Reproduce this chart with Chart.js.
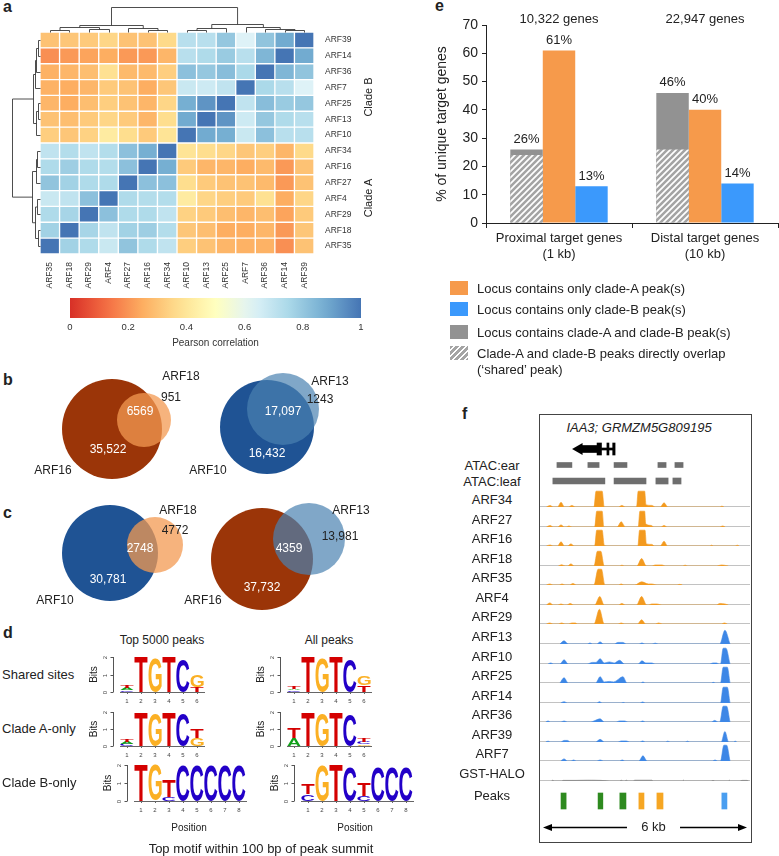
<!DOCTYPE html>
<html>
<head>
<meta charset="utf-8">
<title>ARF clade A / clade B binding</title>
<script src="https://cdn.jsdelivr.net/npm/chart.js"></script>
<style>
  body { margin:0; width:779px; height:856px; position:relative; overflow:hidden; background:#fff;
         font-family:"Liberation Sans", Arial, Helvetica, sans-serif; color:#222; }
  canvas { position:absolute; }
  .t { position:absolute; white-space:nowrap; line-height:1; }
  .sw { position:absolute; width:18px; height:14px; }
  #fbox { position:absolute; left:539px; top:414px; width:211px; height:427px; border:1px solid #444; }
</style>
</head>
<body>
<div id="fbox"></div>
<script>
// ---------- panel a: Pearson correlation of ARF binding ----------
const colNames = ['ARF35','ARF18','ARF29','ARF4','ARF27','ARF16','ARF34','ARF10','ARF13','ARF25','ARF7','ARF36','ARF14','ARF39'];
const rowNames = ['ARF39','ARF14','ARF36','ARF7','ARF25','ARF13','ARF10','ARF34','ARF16','ARF27','ARF4','ARF29','ARF18','ARF35'];
const corr = [
  [0.30,0.31,0.32,0.35,0.30,0.30,0.36, 0.72,0.72,0.80,0.63,0.81,0.88,1.00],
  [0.19,0.21,0.23,0.25,0.21,0.21,0.27, 0.72,0.74,0.79,0.72,0.85,1.00,0.88],
  [0.26,0.27,0.29,0.38,0.28,0.28,0.33, 0.82,0.80,0.83,0.75,1.00,0.85,0.81],
  [0.26,0.25,0.27,0.32,0.30,0.25,0.31, 0.68,0.67,0.70,1.00,0.75,0.72,0.63],
  [0.27,0.25,0.29,0.33,0.30,0.27,0.35, 0.87,0.93,1.00,0.70,0.83,0.79,0.80],
  [0.30,0.29,0.32,0.35,0.32,0.27,0.37, 0.88,1.00,0.93,0.67,0.80,0.74,0.72],
  [0.33,0.31,0.34,0.42,0.37,0.32,0.39, 1.00,0.88,0.87,0.68,0.82,0.72,0.72],
  [0.70,0.73,0.70,0.73,0.82,0.87,1.00, 0.39,0.37,0.35,0.31,0.33,0.27,0.36],
  [0.74,0.78,0.74,0.73,0.82,1.00,0.87, 0.32,0.27,0.27,0.25,0.28,0.21,0.30],
  [0.81,0.77,0.74,0.74,1.00,0.82,0.82, 0.37,0.32,0.30,0.30,0.28,0.21,0.30],
  [0.68,0.70,0.82,1.00,0.74,0.73,0.73, 0.42,0.35,0.33,0.32,0.38,0.25,0.35],
  [0.74,0.76,1.00,0.82,0.74,0.74,0.70, 0.34,0.32,0.29,0.27,0.29,0.23,0.32],
  [0.77,1.00,0.76,0.70,0.77,0.78,0.73, 0.31,0.29,0.25,0.25,0.27,0.21,0.31],
  [1.00,0.77,0.74,0.68,0.81,0.74,0.70, 0.33,0.30,0.27,0.26,0.26,0.19,0.30]
];
// dendrograms: [merge height, left, right], leaves are column / row indexes
const colTree = [25, [7, [5, [2, 0, 1], [3, 2, 3]], [4.5, 4, [2.5, 5, 6]]],
                     [8, [4, [2.5, 7, 8], 9], [5.5, 10, [3.5, 11, [2, 12, 13]]]]];
const rowTree = [28, [7.5, [5.5, [4, [2.5, 0, 1], 2], 3], [4, [2.5, 4, 5], 6]],
                     [8.5, [4.5, [3, 7, 8], 9], [5.5, [3, 10, 11], [2.5, 12, 13]]]];
const cbTicks = [0, 0.2, 0.4, 0.6, 0.8, 1];

// ---------- panels b, c: peak overlaps ----------
const vennPairs = [['ARF16','ARF18'], ['ARF10','ARF13'], ['ARF10','ARF18'], ['ARF16','ARF13']];
const onlyFirst = [35522, 16432, 30781, 37732];
const overlap = [6569, 17097, 2748, 4359];
const onlySecond = [951, 1243, 4772, 13981];

// ---------- panel d: motif logos, per position [letter, bits] bottom to top ----------
const sharedTop = [[['C',0.1],['A',0.12],['T',0.16]], [['T',2]], [['G',1.97]], [['T',2]], [['C',1.9]], [['T',0.3],['G',0.65]]];
const sharedAll = [[['C',0.1],['A',0.1],['T',0.14]], [['T',2]], [['G',1.95]], [['T',2]], [['C',1.88]], [['T',0.38],['G',0.55]]];
const cladeATop = [[['C',0.12],['A',0.12],['T',0.18]], [['T',2]], [['G',1.95]], [['T',2]], [['C',1.9]], [['G',0.45],['T',0.5]]];
const cladeAAll = [[['A',0.45],['T',0.6]], [['T',2]], [['G',1.9]], [['T',2]], [['C',1.85]], [['G',0.1],['C',0.12],['T',0.2]]];
const cladeBTop = [[['T',2]], [['G',2]], [['C',0.2],['T',0.95]], [['C',1.95]], [['C',1.95]], [['C',1.95]], [['C',1.95]], [['C',1.95]]];
const cladeBAll = [[['C',0.38],['T',0.6]], [['G',1.95]], [['T',2]], [['C',1.9]], [['C',0.26],['T',0.75]], [['C',1.9]], [['C',1.9]], [['C',1.9]]];

// ---------- panel e: % of unique target genes ----------
const targetGroups = [['Proximal target genes', '(1 kb)'], ['Distal target genes', '(10 kb)']];
const geneTotals = ['10,322 genes', '22,947 genes'];
const pctBoth = [26, 46];
const pctShared = [24, 26];
const pctCladeA = [61, 40];
const pctCladeB = [13, 14];

// ---------- panel f: IAA3 locus, positions in kb ----------
const trackNames = ['ARF34','ARF27','ARF16','ARF18','ARF35','ARF4','ARF29',
                    'ARF13','ARF10','ARF25','ARF14','ARF36','ARF39','ARF7','GST-HALO'];
const trackGroup = ['A','A','A','A','A','A','A','B','B','B','B','B','B','B','ctrl'];
const arf34 = [[0.1,0],[0.21,1.5],[0.3,0],[0.43,0],[0.53,4.5],[0.63,0],[0.75,0],[0.85,1.5],[0.95,0],[1.5,0],[1.56,15],[1.74,15],[1.8,0],
  [2.22,0],[2.32,1.5],[2.42,0],[2.75,0],[2.8,15],[2.99,15],[3.03,2],[3.2,1.5],[3.3,0],[3.45,0],[3.56,4],[3.67,0],[5.2,0],[5.26,0.8],[5.32,0]];
const arf27 = [[0.1,0],[0.21,1.5],[0.3,0],[0.43,0],[0.53,2],[0.63,0],[0.68,0],[0.76,1],[0.86,0],[1.52,0],[1.58,15],[1.74,15],[1.79,0],
  [2.18,0],[2.3,5],[2.42,0],[2.8,0],[2.85,15],[2.99,15],[3.02,3],[3.18,1.5],[3.26,0],[3.47,0],[3.56,1.5],[3.65,0],[5.2,0],[5.28,1],[5.36,0]];
const arf16 = [[0.1,0],[0.21,1],[0.3,0],[0.43,0],[0.53,4],[0.63,0],[0.72,0],[0.82,2],[0.92,0],[1.52,0],[1.58,15],[1.74,15],[1.8,0.8],[1.9,0],
  [2.79,0],[2.84,15],[3.0,15],[3.04,2],[3.2,1.5],[3.28,0],[3.45,0],[3.56,4.5],[3.66,0],[4.9,0],[4.96,0.8],[5.02,0],[5.65,0],[5.71,0.8],[5.77,0]];
const arf18 = [[0.45,0],[0.55,1.2],[0.65,0],[0.72,0],[0.82,2],[0.92,0],[1.5,0],[1.6,14],[1.7,14],[1.8,0],[2.25,0],[2.32,0.8],[2.4,0],
  [2.76,0],[2.9,7],[3.04,0],[3.2,0],[3.3,1],[3.5,1],[3.6,0],[4.1,0],[4.18,0.8],[4.26,0],[5.1,0],[5.25,1],[5.45,0]];
const arf35 = [[0.1,0],[0.2,1],[0.3,0],[0.47,0],[0.56,1],[0.65,0],[0.78,0],[0.88,1.5],[0.98,0],[1.5,0],[1.62,15],[1.72,15],[1.82,0],
  [2.22,0],[2.3,1],[2.38,0],[2.7,0],[2.9,3],[3.1,1],[3.2,1],[3.35,0],[3.95,0],[4.02,0.6],[4.1,0]];
const arf4 = [[0.1,0],[0.2,2],[0.3,0],[0.43,0],[0.53,1],[0.63,0],[0.7,0],[0.8,1.5],[0.9,0],[1.52,0],[1.67,8],[1.8,0],[2.22,0],[2.32,1.5],[2.42,0],
  [2.75,0],[2.9,8],[3.05,0],[3.1,0],[3.2,1],[3.35,1],[3.5,0],[5.1,0],[5.2,1.5],[5.35,1],[5.45,0]];
const arf29 = [[0.1,0],[0.2,1],[0.3,0],[0.45,0],[0.55,1],[0.65,0],[0.75,0],[0.85,1],[0.95,1],[1.02,0],[1.5,0],[1.66,14],[1.8,0],
  [2.2,0],[2.3,1],[2.4,0],[2.78,0],[2.9,4],[3.02,0],[3.3,0],[3.4,1],[3.52,0],[5.25,0],[5.33,1],[5.42,0]];
const arf13 = [[0.5,0],[0.62,3],[0.74,0],[1.3,0],[1.38,1],[1.46,0],[1.58,0],[1.68,2],[1.78,0],[2.1,0],[2.2,1.5],[2.35,1.5],[2.45,0],
  [2.82,0],[2.91,1],[3.0,0],[3.2,0],[3.3,0.8],[3.4,0],[5.2,0],[5.35,13],[5.5,0]];
const arf10 = [[0.15,0],[0.23,1],[0.31,0],[0.5,0],[0.62,4],[0.74,0],[1.3,0],[1.45,1.5],[1.56,1.5],[1.68,5],[1.8,1],[1.95,2],[2.1,1],[2.25,3.5],[2.4,0],
  [2.8,0],[2.91,3],[3.02,1],[3.2,1],[3.3,0],[4.9,0],[5.0,1],[5.1,1],[5.18,0],[5.22,0],[5.3,15],[5.38,15],[5.5,0]];
const arf25 = [[0.5,0],[0.62,5],[0.74,0],[1.55,0],[1.68,6],[1.8,1],[1.95,1.5],[2.08,1],[2.35,6],[2.47,0],[2.88,0],[2.94,1],[3.0,0],
  [4.96,0],[5.01,0.6],[5.06,0],[5.22,0],[5.3,15],[5.42,15],[5.5,0]];
const arf14 = [[0.52,0],[0.62,1.3],[0.72,0],[1.58,0],[1.66,1.3],[1.74,0],[2.3,0],[2.36,0.5],[2.42,0],[2.85,0],[2.93,1],[3.01,0],
  [5.22,0],[5.3,15],[5.42,15],[5.5,0]];
const arf36 = [[0.08,0],[0.15,1],[0.22,0],[0.52,0],[0.62,1],[0.72,0],[1.4,0],[1.5,1],[1.68,3],[1.8,0],[2.15,0],[2.25,1],[2.4,1],[2.5,0],
  [2.85,0],[2.93,1],[3.01,0],[4.95,0],[5.05,1.5],[5.15,0],[5.2,0],[5.3,15],[5.4,15],[5.5,0]];
const arf39 = [[0.08,0],[0.15,0.8],[0.22,0],[0.52,0],[0.62,1.5],[0.72,1.5],[0.8,0],[1.55,0],[1.68,2.5],[1.8,0],[2.2,0],[2.3,1],[2.45,1],[2.55,0],
  [2.85,0],[2.93,1],[3.01,0],[3.6,0],[3.67,0.8],[3.74,0],[4.18,0],[4.25,0.8],[4.32,0],[5.24,0],[5.35,10],[5.46,0],[5.6,0],[5.65,0.8],[5.7,0]];
const arf7 = [[0.52,0],[0.62,2],[0.72,0],[0.82,0],[0.9,1],[0.98,0],[1.58,0],[1.68,1],[1.78,0],[2.25,0],[2.33,1],[2.41,0],
  [2.82,0],[2.94,5],[3.06,0],[4.98,0],[5.06,1],[5.14,0],[5.22,0],[5.32,15],[5.4,15],[5.5,0]];
const gstHalo = [[0.25,0],[0.29,0.8],[0.33,0],[0.55,0],[0.6,0.6],[0.95,0.6],[1.3,0.8],[1.7,0.6],[1.95,0],[2.25,0],[2.3,0.8],[2.35,0],
  [2.4,0],[2.45,0.8],[2.5,0],[2.65,0],[2.7,0.8],[3.2,0.8],[3.25,0],[4.1,0],[4.13,0.8],[4.16,0],[4.95,0],[5.0,0.6],[5.05,0],
  [5.45,0],[5.48,0.8],[5.51,0],[5.8,0],[5.85,0.6],[6.0,0.6],[6.05,0]];
const tracks = [arf34, arf27, arf16, arf18, arf35, arf4, arf29, arf13, arf10, arf25, arf14, arf36, arf39, arf7, gstHalo];
const atacEar = [[0.41,0.85],[1.32,1.65],[2.09,2.47],[3.38,3.62],[3.88,4.12]];
const atacLeaf = [[0.29,1.82],[2.09,3.03],[3.32,3.68],[3.82,4.06]];
const geneArrow = 1.06;
const geneBody = [[1.08,1.59]];
const geneExons = [[1.59,1.72],[1.88,1.94],[2.05,2.12]];
const geneIntron = [[1.72,2.05]];
const peaksShared = [[0.53,0.68],[1.62,1.76],[2.26,2.44]];
const peaksCladeA = [[2.82,2.97],[3.35,3.53]];
const peaksCladeB = [[5.26,5.41]];
const windowKb = 6;

// ---------- common ----------
const FONT = '"Liberation Sans", Arial, Helvetica, sans-serif';
Chart.defaults.font.family = FONT;
Chart.defaults.color = '#222';
Chart.defaults.animation = false;
Chart.defaults.responsive = false;
Chart.defaults.devicePixelRatio = 1;
Chart.defaults.plugins.legend.display = false;
Chart.defaults.plugins.tooltip.enabled = false;

function addCanvas(left, top, w, h) {
  const c = document.createElement('canvas');
  c.width = w; c.height = h;
  c.style.left = left + 'px'; c.style.top = top + 'px';
  c.style.width = w + 'px'; c.style.height = h + 'px';
  document.body.appendChild(c);
  return c;
}
function text(str, x, cy, o = {}) {
  const d = document.createElement('div');
  d.className = 't';
  d.textContent = str;
  d.style.fontSize = (o.size || 13) + 'px';
  d.style.left = x + 'px';
  d.style.top = cy + 'px';
  if (o.bold) d.style.fontWeight = 'bold';
  if (o.italic) d.style.fontStyle = 'italic';
  if (o.color) d.style.color = o.color;
  const ax = o.align === 'left' ? '0' : o.align === 'right' ? '-100%' : '-50%';
  d.style.transform = `translate(${ax}, -50%)` + (o.rotate ? ` rotate(${o.rotate}deg)` : '');
  document.body.appendChild(d);
}
function rdylbu(v) {
  const stops = [[215,48,39],[244,109,67],[253,174,97],[254,224,144],[255,255,191],
                 [224,243,248],[171,217,233],[116,173,209],[69,117,180]];
  const t = Math.max(0, Math.min(1, v)) * (stops.length - 1);
  const i = Math.min(Math.floor(t), stops.length - 2), f = t - i;
  return 'rgb(' + stops[i].map((s, k) => Math.round(s + (stops[i + 1][k] - s) * f)).join(',') + ')';
}

// panel letters
text('a', 3, 7, {bold: true, size: 16, align: 'left'});
text('b', 3, 380, {bold: true, size: 16, align: 'left'});
text('c', 3, 513, {bold: true, size: 16, align: 'left'});
text('d', 3, 633, {bold: true, size: 16, align: 'left'});
text('e', 435, 6, {bold: true, size: 16, align: 'left'});
text('f', 462, 414, {bold: true, size: 16, align: 'left'});

// ================= a: heatmap =================
const dendroPlugin = {
  id: 'dendro',
  afterDraw(chart) {
    const {ctx, chartArea: a, scales: {x, y}} = chart;
    ctx.save();
    ctx.strokeStyle = '#3a3a3a';
    ctx.lineWidth = 0.9;
    const seg = (p, q) => { ctx.beginPath(); ctx.moveTo(p[0], p[1]); ctx.lineTo(q[0], q[1]); ctx.stroke(); };
    const walk = (node, pos, map) => {
      if (typeof node === 'number') return {p: pos(node), h: 0};
      const [h, l, r] = node;
      const L = walk(l, pos, map), R = walk(r, pos, map);
      seg(map(L.p, L.h), map(L.p, h));
      seg(map(R.p, R.h), map(R.p, h));
      seg(map(L.p, h), map(R.p, h));
      return {p: (L.p + R.p) / 2, h};
    };
    walk(colTree, i => Math.round(x.getPixelForValue(i + 0.5)) + 0.5, (p, h) => [p, Math.round(a.top - h) + 0.5]);
    walk(rowTree, i => Math.round(y.getPixelForValue(i)) + 0.5, (p, h) => [Math.round(a.left - h) + 0.5, p]);
    ctx.restore();
  }
};
new Chart(addCanvas(0, 0, 390, 300), {
  type: 'bar',
  data: {
    labels: rowNames,
    datasets: colNames.map((name, j) => ({
      label: name,
      data: rowNames.map(() => 1),
      backgroundColor: corr.map(row => rdylbu(row[j])),
      borderColor: '#fff',
      borderWidth: 1,
      borderSkipped: false,
      barPercentage: 1,
      categoryPercentage: 1
    }))
  },
  options: {
    indexAxis: 'y',
    layout: {padding: {left: 40, top: 32}},
    scales: {
      x: {
        type: 'linear', stacked: true, min: 0, max: colNames.length,
        grid: {display: false, drawTicks: false}, border: {display: false},
        afterBuildTicks: s => { s.ticks = colNames.map((n, i) => ({value: i + 0.5})); },
        afterFit: s => { s.height = 46; },
        ticks: {autoSkip: false, minRotation: 90, maxRotation: 90, padding: 8,
                font: {size: 8.5}, color: '#333', callback: (v, i) => colNames[i]}
      },
      y: {
        stacked: true, position: 'right',
        grid: {display: false, drawTicks: false}, border: {display: false},
        afterFit: s => { s.width = 76; },
        ticks: {padding: 11, font: {size: 8.5}, color: '#333'}
      }
    }
  },
  plugins: [dendroPlugin]
});
text('Clade B', 368, 97, {size: 11, rotate: -90});
text('Clade A', 368, 198, {size: 11, rotate: -90});

// colour key
new Chart(addCanvas(0, 292, 390, 62), {
  type: 'bar',
  data: {
    labels: [''],
    datasets: [{
      data: [[cbTicks[0], cbTicks[cbTicks.length - 1]]],
      barPercentage: 1, categoryPercentage: 1,
      backgroundColor: c => {
        const a = c.chart.chartArea;
        if (!a) return 'rgba(0,0,0,0)';
        const g = c.chart.ctx.createLinearGradient(a.left, 0, a.right, 0);
        for (let k = 0; k <= 20; k++) g.addColorStop(k / 20, rdylbu(k / 20));
        return g;
      }
    }]
  },
  options: {
    indexAxis: 'y',
    layout: {padding: {left: 70, right: 29, top: 6}},
    scales: {
      x: {
        type: 'linear', min: 0, max: 1,
        grid: {display: false, drawTicks: false}, border: {display: false},
        afterBuildTicks: s => { s.ticks = cbTicks.map(v => ({value: v})); },
        afterFit: s => { s.height = 36; },
        ticks: {padding: 4, font: {size: 9.5}, color: '#333', callback: v => String(+v.toFixed(1))},
        title: {display: true, text: 'Pearson correlation', font: {size: 10}, color: '#333', padding: {top: 0, bottom: 5}}
      },
      y: {display: false}
    }
  }
});

// ================= b, c: Venn diagrams =================
const tfColor = {ARF16: '#9b3508', ARF10: '#1f5394', ARF18: 'rgba(243,154,82,0.75)', ARF13: 'rgba(74,130,177,0.7)'};
// circle centre x, y and radius in page pixels, plus label anchors
const vennLayout = [
  {a: [112, 429, 50], b: [144, 420, 27], inA: [108, 450], inAB: [140, 412], inB: [171, 398], nameA: [53, 471], nameB: [181, 377]},
  {a: [267, 427, 47], b: [283, 409, 36], inA: [267, 454], inAB: [283, 412], inB: [320, 400], nameA: [208, 471], nameB: [330, 382]},
  {a: [110, 553, 48], b: [155, 545, 28], inA: [108, 580], inAB: [140, 549], inB: [175, 531], nameA: [55, 601], nameB: [178, 511]},
  {a: [262, 559, 51], b: [309, 539, 36], inA: [262, 588], inAB: [289, 549], inB: [340, 537], nameA: [203, 601], nameB: [351, 511]}
];
const fmtCount = n => n >= 10000 ? n.toLocaleString('en-US') : String(n);
const vennText = {
  id: 'vennText',
  afterDatasetsDraw(chart) {
    const {ctx, scales: {x, y}} = chart;
    ctx.save();
    ctx.font = '12px ' + FONT;
    ctx.textAlign = 'center';
    ctx.textBaseline = 'middle';
    const put = (t, p, col) => { ctx.fillStyle = col; ctx.fillText(t, x.getPixelForValue(p[0]), y.getPixelForValue(p[1])); };
    vennLayout.forEach((L, i) => {
      put(fmtCount(onlyFirst[i]), L.inA, '#fff');
      put(fmtCount(overlap[i]), L.inAB, '#fff');
      put(fmtCount(onlySecond[i]), L.inB, '#222');
      put(vennPairs[i][0], L.nameA, '#222');
      put(vennPairs[i][1], L.nameB, '#222');
    });
    ctx.restore();
  }
};
new Chart(addCanvas(0, 355, 400, 262), {
  type: 'bubble',
  data: {
    datasets: [{
      data: vennLayout.flatMap(L => [L.a, L.b]).map(([x, y, r]) => ({x, y, r})),
      backgroundColor: vennPairs.flatMap(p => p.map(n => tfColor[n])),
      borderWidth: 0,
      clip: false
    }]
  },
  options: {
    layout: {padding: 0, autoPadding: false},
    scales: {x: {display: false, min: 0, max: 400}, y: {display: false, min: 355, max: 617, reverse: true}}
  },
  plugins: [vennText]
});

// ================= d: sequence logos =================
const letterColor = {A: '#11a01a', C: '#2200c8', G: '#fbb024', T: '#d40000'};
function drawLetter(ctx, ch, x0, y0, w, h, color) {
  if (h < 0.4 || w <= 0) return;
  ctx.save();
  ctx.font = 'bold 100px ' + FONT;
  const m = ctx.measureText(ch);
  const gw = m.actualBoundingBoxLeft + m.actualBoundingBoxRight;
  const gh = m.actualBoundingBoxAscent + m.actualBoundingBoxDescent;
  ctx.translate(x0, y0);
  ctx.scale(w / gw, h / gh);
  ctx.fillStyle = color;
  ctx.fillText(ch, m.actualBoundingBoxLeft, m.actualBoundingBoxAscent);
  ctx.restore();
}
const logoPlugin = {
  id: 'logo',
  afterDatasetsDraw(chart) {
    const {ctx, chartArea: a, scales: {y}} = chart;
    chart.data.datasets.forEach((ds, k) => {
      chart.getDatasetMeta(k).data.forEach((bar, i) => {
        const ch = ds.letters[i];
        if (!ch) return;
        const p = bar.getProps(['x', 'y', 'base', 'width'], true);
        drawLetter(ctx, ch, p.x - p.width / 2, p.y, p.width, p.base - p.y, letterColor[ch]);
      });
    });
    const ax = a.left - 6.5;
    ctx.save();
    ctx.strokeStyle = '#555';
    ctx.lineWidth = 1;
    ctx.beginPath();
    ctx.moveTo(ax, y.getPixelForValue(0));
    ctx.lineTo(ax, y.getPixelForValue(2));
    ctx.stroke();
    ctx.fillStyle = '#444';
    ctx.textAlign = 'center';
    ctx.textBaseline = 'middle';
    [0, 1, 2].forEach(v => {
      const py = Math.round(y.getPixelForValue(v)) + 0.5;
      ctx.beginPath(); ctx.moveTo(ax - 3, py); ctx.lineTo(ax, py); ctx.stroke();
      ctx.save();
      ctx.font = '6px ' + FONT;
      ctx.translate(ax - 8, py);
      ctx.rotate(-Math.PI / 2);
      ctx.fillText(String(v), 0, 0);
      ctx.restore();
    });
    ctx.save();
    ctx.font = '10px ' + FONT;
    ctx.fillStyle = '#222';
    ctx.translate(ax - 19, (y.getPixelForValue(0) + y.getPixelForValue(2)) / 2);
    ctx.rotate(-Math.PI / 2);
    ctx.fillText('Bits', 0, 0);
    ctx.restore();
    ctx.restore();
  }
};
function makeLogo(cols, chartLeft, top, bottom) {
  const pitch = 14, padL = 36, padT = 4, axisH = 16;
  const cv = addCanvas(chartLeft - padL, top - padT, padL + cols.length * pitch + 2, padT + (bottom - top) + axisH);
  const depth = Math.max(...cols.map(c => c.length));
  const datasets = [];
  for (let k = 0; k < depth; k++) {
    datasets.push({
      data: cols.map(c => (c[k] ? c[k][1] : 0)),
      letters: cols.map(c => (c[k] ? c[k][0] : '')),
      backgroundColor: 'rgba(0,0,0,0)',
      barPercentage: 0.94,
      categoryPercentage: 1
    });
  }
  new Chart(cv, {
    type: 'bar',
    data: {labels: cols.map((c, i) => String(i + 1)), datasets},
    options: {
      layout: {padding: {left: padL, top: padT, right: 2}},
      scales: {
        x: {
          stacked: true,
          grid: {display: true, drawOnChartArea: false, tickLength: 2, offset: false, color: '#666'},
          border: {display: true, color: '#666'},
          afterFit: s => { s.height = axisH; },
          ticks: {font: {size: 6}, color: '#444', padding: 4}
        },
        y: {stacked: true, display: false, min: 0, max: 2}
      }
    },
    plugins: [logoPlugin]
  });
}
makeLogo(sharedTop, 120, 657, 692);
makeLogo(sharedAll, 287, 657, 692);
makeLogo(cladeATop, 120, 712, 746);
makeLogo(cladeAAll, 287, 712, 746);
makeLogo(cladeBTop, 134, 765, 801);
makeLogo(cladeBAll, 301, 765, 801);
text('Top 5000 peaks', 162, 640, {size: 12});
text('All peaks', 329, 640, {size: 12});
text('Shared sites', 2, 674, {size: 13, align: 'left'});
text('Clade A-only', 2, 728, {size: 13, align: 'left'});
text('Clade B-only', 2, 782, {size: 13, align: 'left'});
text('Position', 189, 828, {size: 10});
text('Position', 355, 828, {size: 10});
text('Top motif within 100 bp of peak summit', 261, 848, {size: 13});

// ================= e: target genes bar chart =================
function makeHatch() {
  const p = document.createElement('canvas');
  p.width = 6; p.height = 6;
  const g = p.getContext('2d');
  g.fillStyle = '#a4a4a4';
  g.fillRect(0, 0, 6, 6);
  g.strokeStyle = '#fff';
  g.lineWidth = 1.7;
  g.beginPath();
  g.moveTo(0, 6); g.lineTo(6, 0);
  g.moveTo(-1, 1); g.lineTo(1, -1);
  g.moveTo(5, 7); g.lineTo(7, 5);
  g.stroke();
  return g.createPattern(p, 'repeat');
}
const colA = '#f69a4b', colB = '#3b99fc', colBoth = '#929292';
const barLabels = {
  id: 'barLabels',
  afterDatasetsDraw(chart) {
    const {ctx, scales: {x}} = chart;
    ctx.save();
    ctx.font = '13px ' + FONT;
    ctx.fillStyle = '#222';
    ctx.textAlign = 'center';
    ctx.textBaseline = 'middle';
    [1, 2, 3].forEach(k => chart.getDatasetMeta(k).data.forEach((bar, i) => {
      ctx.fillText(chart.data.datasets[k].data[i] + '%', bar.x, bar.y - 10);
    }));
    geneTotals.forEach((t, i) => ctx.fillText(t, x.getPixelForValue(i), 19));
    ctx.restore();
  }
};
const eChart = new Chart(addCanvas(400, 0, 379, 272), {
  type: 'bar',
  data: {
    labels: targetGroups,
    datasets: [
      {label: "Clade-A and clade-B peaks directly overlap\n(\u2018shared\u2019 peak)", data: pctShared, stack: 'AB', backgroundColor: makeHatch()},
      {label: 'Locus contains clade-A and clade-B peak(s)', data: pctBoth, stack: 'AB', backgroundColor: colBoth},
      {label: 'Locus contains only clade-A peak(s)', data: pctCladeA, stack: 'A', backgroundColor: colA},
      {label: 'Locus contains only clade-B peak(s)', data: pctCladeB, stack: 'B', backgroundColor: colB}
    ]
  },
  options: {
    layout: {padding: {top: 25, right: 1}},
    datasets: {bar: {categoryPercentage: 0.667, barPercentage: 1, borderWidth: 0}},
    scales: {
      x: {
        stacked: true,
        grid: {display: true, drawOnChartArea: false, drawTicks: true, tickLength: 5, offset: true, color: '#222'},
        border: {display: true, color: '#222'},
        afterFit: s => { s.height = 49; },
        ticks: {font: {size: 13}, color: '#222', padding: 3}
      },
      y: {
        stacked: false, min: 0, max: 70,
        grid: {display: true, drawOnChartArea: false, drawTicks: true, tickLength: 4, color: '#222'},
        border: {display: true, color: '#222'},
        afterFit: s => { s.width = 86; },
        ticks: {stepSize: 10, font: {size: 14}, color: '#222', padding: 4},
        title: {display: true, text: '% of unique target genes', font: {size: 14}, color: '#222', padding: {top: 34, bottom: 0}}
      }
    }
  },
  plugins: [barLabels]
});
// legend built from the datasets
[2, 3, 1, 0].forEach((k, row) => {
  const ds = eChart.data.datasets[k];
  const cy = [288, 309, 332, 353][row];
  const sw = document.createElement('div');
  sw.className = 'sw';
  sw.style.left = '450px';
  sw.style.top = (cy - 7) + 'px';
  sw.style.background = k === 0
    ? 'repeating-linear-gradient(135deg, #a4a4a4 0 2.6px, #fff 2.6px 4.2px)'
    : ds.backgroundColor;
  document.body.appendChild(sw);
  ds.label.split('\n').forEach((line, j) => text(line, 477, cy + j * 16, {size: 13, align: 'left'}));
});

// ================= f: genome browser =================
const fLeft = 540, fWidth = 210;
const pxPerKb = 34, kbMin = -3 / pxPerKb, kbMax = kbMin + fWidth / pxPerKb;
text('IAA3; GRMZM5G809195', 639, 427, {size: 13, italic: true});
text('ATAC:ear', 492, 465, {size: 13});
text('ATAC:leaf', 492, 481, {size: 13});
text('Peaks', 492, 795, {size: 13});

// gene model and ATAC-seq accessible regions
const seg = (list, row) => list.map(r => ({x: r, y: row}));
new Chart(addCanvas(fLeft, 441, fWidth, 48), {
  type: 'bar',
  data: {
    labels: ['gene', 'ATAC:ear', 'ATAC:leaf'],
    datasets: [
      {type: 'scatter', data: [{x: geneArrow, y: 'gene'}], pointStyle: 'triangle', rotation: -90, pointRadius: 7,
       backgroundColor: '#000', borderWidth: 0},
      {data: seg(geneBody, 'gene'), barThickness: 7, backgroundColor: '#000'},
      {data: seg(geneExons, 'gene'), barThickness: 12, backgroundColor: '#000'},
      {data: seg(geneIntron, 'gene'), barThickness: 2, backgroundColor: '#000'},
      {data: seg(atacEar, 'ATAC:ear'), barThickness: 5, backgroundColor: '#6e6e6e'},
      {data: seg(atacLeaf, 'ATAC:leaf'), barThickness: 6, backgroundColor: '#6e6e6e'}
    ]
  },
  options: {
    indexAxis: 'y',
    datasets: {bar: {grouped: false, borderWidth: 0}},
    layout: {padding: 0, autoPadding: false},
    scales: {x: {type: 'linear', min: kbMin, max: kbMax, display: false}, y: {display: false}}
  }
});

// ChIP-seq coverage tracks
const trackColor = {A: '#f39a1f', B: '#3d87e6', ctrl: '#8c8c8c'};
const baselinePlugin = {
  id: 'baseline',
  beforeDatasetsDraw(chart) {
    const {ctx, scales: {y}} = chart;
    const py = Math.round(y.getPixelForValue(0)) - 0.5;
    ctx.save();
    ctx.strokeStyle = '#c2c2c2';
    ctx.lineWidth = 1;
    ctx.beginPath(); ctx.moveTo(0, py); ctx.lineTo(chart.width, py); ctx.stroke();
    ctx.restore();
  }
};
tracks.forEach((pts, i) => {
  const base = Math.round(507 + i * 19.57);
  text(trackNames[i], 492, base - 8.5, {size: 13});
  const col = trackColor[trackGroup[i]];
  new Chart(addCanvas(fLeft, base - 19, fWidth, 20), {
    type: 'line',
    data: {
      datasets: [{
        data: pts.map(([x, y]) => ({x, y})),
        fill: 'origin', backgroundColor: col, borderColor: col, borderWidth: 0.6,
        pointRadius: 0, cubicInterpolationMode: 'monotone'
      }]
    },
    options: {
      layout: {padding: {bottom: 1}, autoPadding: false},
      scales: {x: {type: 'linear', min: kbMin, max: kbMax, display: false}, y: {min: 0, max: 18, display: false}}
    },
    plugins: [baselinePlugin]
  });
});

// called peaks and 6 kb scale
const scaleBar = {
  id: 'scaleBar',
  afterDraw(chart) {
    const {ctx, scales: {x}} = chart;
    const y = 42.5, x0 = x.getPixelForValue(0), x1 = x.getPixelForValue(windowKb);
    const gapL = x.getPixelForValue(2.47), gapR = x.getPixelForValue(4.03);
    ctx.save();
    ctx.strokeStyle = '#000';
    ctx.fillStyle = '#000';
    ctx.lineWidth = 1.3;
    ctx.beginPath();
    ctx.moveTo(x0 + 6, y); ctx.lineTo(gapL, y);
    ctx.moveTo(gapR, y); ctx.lineTo(x1 - 6, y);
    ctx.stroke();
    ctx.beginPath(); ctx.moveTo(x0, y); ctx.lineTo(x0 + 9, y - 3.5); ctx.lineTo(x0 + 9, y + 3.5); ctx.fill();
    ctx.beginPath(); ctx.moveTo(x1, y); ctx.lineTo(x1 - 9, y - 3.5); ctx.lineTo(x1 - 9, y + 3.5); ctx.fill();
    ctx.font = '13px ' + FONT;
    ctx.textAlign = 'center';
    ctx.textBaseline = 'middle';
    ctx.fillStyle = '#222';
    ctx.fillText(windowKb + ' kb', (gapL + gapR) / 2, y);
    ctx.restore();
  }
};
new Chart(addCanvas(fLeft, 785, fWidth, 52), {
  type: 'bar',
  data: {
    labels: ['Peaks'],
    datasets: [
      {data: seg(peaksShared, 'Peaks'), backgroundColor: '#2e8a1f'},
      {data: seg(peaksCladeA, 'Peaks'), backgroundColor: '#f6a623'},
      {data: seg(peaksCladeB, 'Peaks'), backgroundColor: '#4a9ef0'}
    ]
  },
  options: {
    indexAxis: 'y',
    datasets: {bar: {grouped: false, barThickness: 16, borderWidth: 0}},
    layout: {padding: {bottom: 20}},
    scales: {x: {type: 'linear', min: kbMin, max: kbMax, display: false}, y: {display: false}}
  },
  plugins: [scaleBar]
});
</script>
</body>
</html>
